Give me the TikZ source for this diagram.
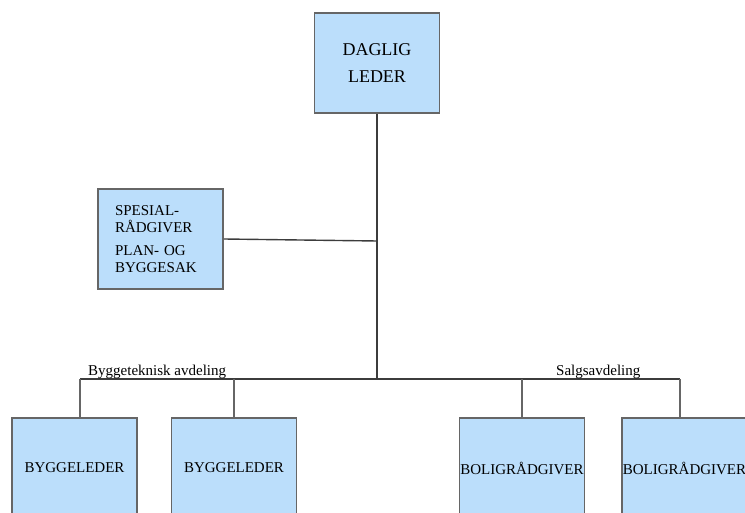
\documentclass[tikz,border=0pt]{standalone}
\usepackage{fontspec}
\setmainfont{Liberation Serif}
\usepackage{xcolor}
\usetikzlibrary{positioning}

\definecolor{boxblue}{HTML}{BBDEFB}
\definecolor{boxrim}{HTML}{666666}
\definecolor{linegray}{HTML}{3C3C3C}

\begin{document}
\begin{tikzpicture}[
			x=1pt, y=-1pt,
			unit/.style={rectangle, draw=boxrim, fill=boxblue, line width=1.8pt,
				minimum width=125pt, minimum height=100pt, inner sep=0pt, align=center,
				font=\fontsize{15}{17}\selectfont},
			wire/.style={draw=linegray, line width=1.4pt},
			drop/.style={draw=boxrim, line width=1.8pt},
			dept/.style={anchor=base west, inner sep=0pt, font=\fontsize{15}{17}\selectfont}
			]
			\useasboundingbox (0,0) rectangle (745,513);
			\clip (0,0) rectangle (745,513);
			
			% Ledelse
			\node[unit, font=\fontsize{18}{27.5}\selectfont] (leder) at (377,63) {DAGLIG\\LEDER};
			\node[unit, align=left, text width=91pt, inner xsep=17pt,
				font=\fontsize{15}{16.3}\selectfont] (spes) at (160.5,239)
				{SPESIAL-\\R\r{A}DGIVER\\[7.4pt]PLAN- OG\\BYGGESAK};
			
			% Avdelinger
			\node[unit] (bl1) at (74.5,468) {BYGGELEDER};
			\node[unit] (bl2) at (234,468) {BYGGELEDER};
			\node[unit] (br1) at (522,468) {BOLIGR\r{A}DGIVER};
			\node[unit] (br2) at (684.5,468) {BOLIGR\r{A}DGIVER};
			
			% Knutepunkt
			\coordinate (hub) at (377,379);
			\coordinate (sjoint) at (377,241);
			\coordinate (busl) at (80,379);
			\coordinate (busr) at (680,379);
			
			% Linjer
			\draw[wire] (leder.south) -- (hub);
			\draw[wire] (spes.east) -- (sjoint);
			\draw[wire] (busl) -- (busr);
			\draw[drop] (busl) -- (busl |- bl1.north);
			\draw[drop] (bl2.north |- hub) -- (bl2.north);
			\draw[drop] (br1.north |- hub) -- (br1.north);
			\draw[drop] (busr) -- (busr |- br2.north);
			
			% Avdelingsnavn
			\node[dept] (byggtek) at (88,375) {Byggeteknisk avdeling};
			\node[dept] (salg) at (556,375) {Salgsavdeling};
			
		\end{tikzpicture}
\end{document}
